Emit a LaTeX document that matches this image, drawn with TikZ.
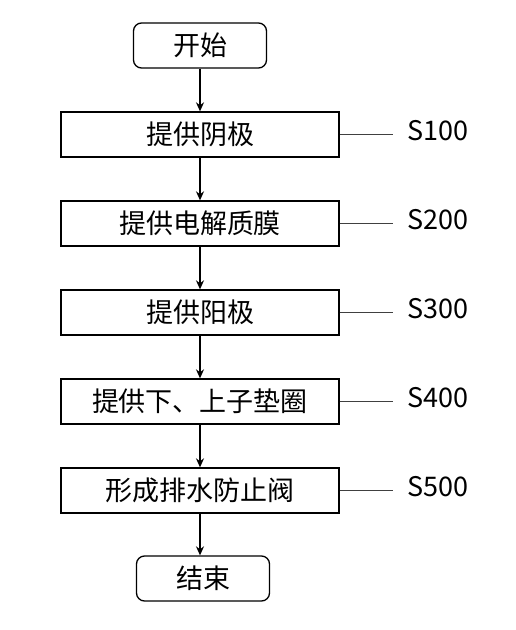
\documentclass[tikz,border=0pt]{standalone}
\usepackage{fontspec}
\setmainfont{Noto Sans CJK SC}
\usetikzlibrary{positioning,arrows.meta}

\begin{document}
\begin{tikzpicture}[x=1pt,y=-1pt,line width=1.3pt,font=\fontsize{27}{30}\selectfont,
	node distance=42.7pt,
	stepbox/.style={draw,minimum width=278pt,minimum height=45pt,inner sep=0pt},
	endbox/.style={draw,rounded corners=8pt,minimum width=133pt,minimum height=45pt,inner sep=0pt},
	flow/.style={-{Stealth[length=9pt,width=8pt]}},
	lead/.style={line width=0.9pt,black!75}]
			\useasboundingbox (0,0) rectangle (516,630);
			\node [endbox] (start) at (200,45.5) {开始};
			\node [stepbox,below=of start] (s1) {提供阴极};
			\node [stepbox,below=of s1] (s2) {提供电解质膜};
			\node [stepbox,below=of s2] (s3) {提供阳极};
			\node [stepbox,below=of s3] (s4) {提供下、上子垫圈};
			\node [stepbox,below=of s4] (s5) {形成排水防止阀};
			\node [endbox,below=41.7pt of s5,xshift=3pt] (stop) {结束};
			\draw [flow] (start) -- (s1);
			\draw [flow] (s1) -- (s2);
			\draw [flow] (s2) -- (s3);
			\draw [flow] (s3) -- (s4);
			\draw [flow] (s4) -- (s5);
			\draw [flow] (s5.south) -- (s5.south |- stop.north);
			% step labels
			\foreach \i in {1,...,5} {
				\coordinate (l\i) at ([xshift=53pt]s\i.east);
				\draw [lead] (s\i.east) -- (l\i);
				\node [right=14pt of l\i,yshift=4pt,inner sep=0pt] (t\i) {S\i00};
			}
\end{tikzpicture}
\end{document}
